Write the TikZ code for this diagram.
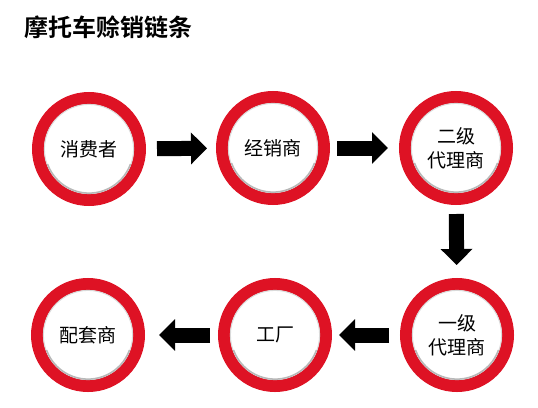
\documentclass[tikz,border=0pt]{standalone}
\usepackage{fontspec}
\newfontfamily\cjk{Noto Sans CJK SC}
\newfontfamily\cjkbold{Noto Sans CJK SC Bold}
\usetikzlibrary{arrows.meta,calc}
\definecolor{ringred}{RGB}{222,18,36}
\tikzset{
  ring/.style={circle, draw=ringred, line width=12pt, fill=white, minimum size=102pt, inner sep=0pt,
    font=\cjk\fontsize{19}{24}\selectfont, align=center, text=black},
  flowarrow/.style={line width=15pt, -{Triangle[length=16pt,width=31pt]}},
  innershade/.style={black!15, line width=1pt}
}
\begin{document}
\begin{tikzpicture}[x=1pt,y=-1pt]
\useasboundingbox (0,0) rectangle (538,407);
\node[anchor=west, font=\cjkbold\fontsize{24}{28}\selectfont, inner sep=0pt] (title) at (24,27) {摩托车赊销链条};
\node[ring] (c1) at (89,149) {消费者};
\node[ring] (c2) at (273,148) {经销商};
\node[ring] (c3) at (456,148) {二级\\代理商};
\node[ring] (c4) at (88,335) {配套商};
\node[ring] (c5) at (275,335) {工厂};
\node[ring] (c6) at (457,335) {一级\\代理商};
\foreach \c in {c1,c2,c3,c4,c5,c6}{
  \draw[innershade] (\c) circle (44.6);
  \draw[black!28, line width=1.5pt] ($(\c)+(20:44.1)$) arc[start angle=20, end angle=160, radius=44.1];
}
\draw[flowarrow, shorten <=11pt, shorten >=9pt] (c1) -- (c2);
\draw[flowarrow, shorten <=7pt, shorten >=11pt] (c2) -- (c3);
\draw[flowarrow, shorten <=9pt, shorten >=13pt] (c3) -- (c6);
\draw[flowarrow, shorten <=11pt, shorten >=7pt] (c6) -- (c5);
\draw[flowarrow, shorten <=8pt, shorten >=14pt] (c5) -- (c4);
\end{tikzpicture}
\end{document}
